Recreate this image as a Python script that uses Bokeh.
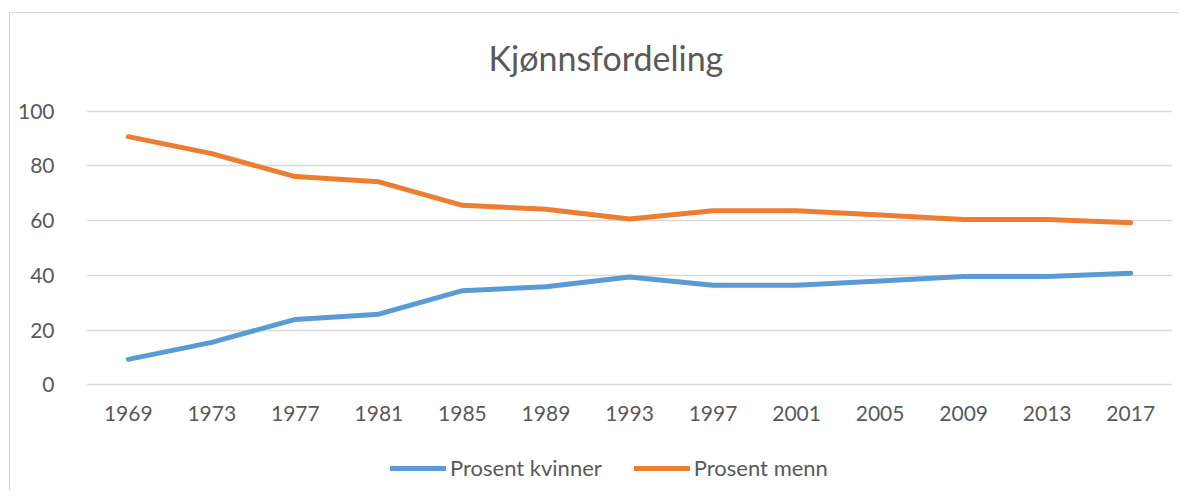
from bokeh.plotting import figure
from bokeh.layouts import column
from bokeh.models import (ColumnDataSource, FixedTicker, Legend, LegendItem, Range1d)
from bokeh.embed import file_html
from bokeh.resources import INLINE

years = ["1969", "1973", "1977", "1981", "1985", "1989", "1993",
         "1997", "2001", "2005", "2009", "2013", "2017"]
kvinner = [9.3, 15.5, 23.9, 25.8, 34.4, 35.8, 39.4, 36.4, 36.4, 37.9, 39.6, 39.6, 40.8]
menn = [90.7, 84.5, 76.1, 74.2, 65.6, 64.2, 60.6, 63.6, 63.6, 62.1, 60.4, 60.4, 59.2]
y_ticks = [0, 20, 40, 60, 80, 100]

FONT = "Lato"
TXT = "#595959"
GRID = "#d9d9d9"
BLUE = "#5B9BD5"
ORANGE = "#ED7D31"

idx = list(range(len(years)))
src = ColumnDataSource(dict(x=idx, kv=kvinner, me=menn))

W = 1179
H1, H2 = 440, 51

p = figure(width=W, height=H1, output_backend="svg", toolbar_location=None,
           x_range=Range1d(-0.5, len(years) - 0.5), y_range=Range1d(-1, 101),
           min_border_left=86, min_border_right=7,
           min_border_top=108, min_border_bottom=53,
           title="Kjønnsfordeling")
p.outline_line_color = None
p.background_fill_color = "white"
p.border_fill_alpha = 0
p.styles = {
    "background": ("linear-gradient(#d9d9d9,#d9d9d9) 9px 12px / 1px 2000px no-repeat, "
                   "linear-gradient(#d9d9d9,#d9d9d9) 9px 12px / 3000px 1px no-repeat, white"),
}

p.title.align = "left"
p.title.offset = 402
p.title.text_font = FONT
p.title.text_font_size = "34px"
p.title.text_font_style = "normal"
p.title.text_color = TXT
p.title.standoff = 62

p.line("x", "kv", source=src, line_color=BLUE, line_width=5,
       line_cap="round", line_join="round")
p.line("x", "me", source=src, line_color=ORANGE, line_width=5,
       line_cap="round", line_join="round")

# axes
p.xaxis.ticker = FixedTicker(ticks=idx)
p.xaxis.major_label_overrides = {i: y for i, y in enumerate(years)}
p.yaxis.ticker = FixedTicker(ticks=y_ticks)
for ax in (p.xaxis, p.yaxis):
    ax.axis_line_color = None
    ax.major_tick_line_color = None
    ax.minor_tick_line_color = None
    ax.major_label_text_font = FONT
    ax.major_label_text_font_size = "21px"
    ax.major_label_text_color = TXT
p.xaxis.major_label_standoff = 12
p.yaxis.major_label_standoff = 26

p.xgrid.grid_line_color = None
p.ygrid.ticker = FixedTicker(ticks=y_ticks)
p.ygrid.grid_line_color = GRID
p.ygrid.grid_line_width = 1.3

# legend strip below the chart
q = figure(width=W, height=H2, output_backend="svg", toolbar_location=None,
           x_range=Range1d(-0.5, len(years) - 0.5), y_range=Range1d(1000, 1001),
           min_border=0)
q.axis.visible = False
q.grid.visible = False
q.outline_line_color = None
q.border_fill_alpha = 0
q.background_fill_alpha = 0
q.styles = {
    "background": ("linear-gradient(#d9d9d9,#d9d9d9) 9px 0px / 1px 2000px no-repeat, white"),
}
l1 = q.line("x", "kv", source=src, line_color=BLUE, line_width=5, line_cap="round")
l2 = q.line("x", "me", source=src, line_color=ORANGE, line_width=5, line_cap="round")

legend = Legend(items=[LegendItem(label="Prosent kvinner", renderers=[l1]),
                       LegendItem(label="Prosent menn", renderers=[l2])],
                orientation="horizontal", location=(304, 10),
                glyph_width=56, label_text_font=FONT, label_text_font_size="22px",
                label_text_color=TXT, border_line_color=None,
                background_fill_alpha=0, spacing=32, label_standoff=4,
                padding=0, margin=0)
q.add_layout(legend, "center")

layout = column(p, q, spacing=0)
open("out.html", "w").write(file_html(layout, INLINE))
